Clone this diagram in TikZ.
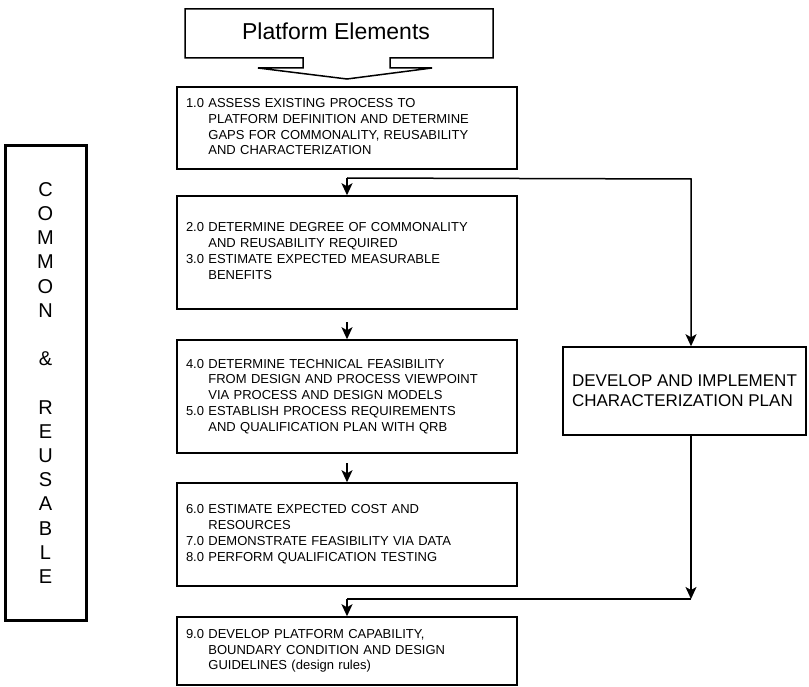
\documentclass[tikz,border=0pt]{standalone}
\usepackage{fontspec}
\setmainfont{Liberation Sans}
\usetikzlibrary{arrows.meta}

\begin{document}
\begin{tikzpicture}[x=1pt,y=-1pt,line width=1.5pt,
  stepbox/.style={draw,rectangle,inner xsep=9pt,text width=322pt,align=left,
    font=\fontsize{13}{15.8}\selectfont},
  sidebox/.style={draw,rectangle,line width=3pt,minimum width=81pt,minimum height=474pt,
    align=center,font=\fontsize{20}{24.2}\selectfont},
  planbox/.style={draw,rectangle,minimum width=243pt,minimum height=88pt,
    align=left,font=\fontsize{17}{20}\selectfont},
  arr/.style={-{Stealth[length=12pt,width=11pt,inset=3pt]},line width=1.5pt}]
  \useasboundingbox (0,0) rectangle (809,687);

  % platform elements banner with its arrow
  \draw (185,9) -- (493,9) -- (493,58) -- (390,58) -- (390,68) -- (432,68)
    -- (347,79) -- (258,68) -- (303,68) -- (303,58) -- (185,58) -- cycle;
  \node (pe) at (336,31) {\fontsize{23}{26}\selectfont Platform Elements};

  \node[stepbox,minimum height=82pt] (b1) at (347,128)
    {\begin{tabular}{@{}l@{ }l@{}}
      1.0 & ASSESS EXISTING PROCESS TO\\
          & PLATFORM DEFINITION AND DETERMINE\\
          & GAPS FOR COMMONALITY, REUSABILITY\\
          & AND CHARACTERIZATION
    \end{tabular}};
  \node[stepbox,minimum height=113pt] (b2) at (347,252.5)
    {\begin{tabular}{@{}l@{ }l@{}}
      2.0 & DETERMINE DEGREE OF COMMONALITY\\
          & AND REUSABILITY REQUIRED\\
      3.0 & ESTIMATE EXPECTED MEASURABLE\\
          & BENEFITS
    \end{tabular}};
  \node[stepbox,minimum height=113pt] (b3) at (347,396.5)
    {\begin{tabular}{@{}l@{ }l@{}}
      4.0 & DETERMINE TECHNICAL FEASIBILITY\\
          & FROM DESIGN AND PROCESS VIEWPOINT\\
          & VIA PROCESS AND DESIGN MODELS\\
      5.0 & ESTABLISH PROCESS REQUIREMENTS\\
          & AND QUALIFICATION PLAN WITH QRB
    \end{tabular}};
  \node[stepbox,minimum height=103pt] (b4) at (347,534.5)
    {\begin{tabular}{@{}l@{ }l@{}}
      6.0 & ESTIMATE EXPECTED COST AND\\
          & RESOURCES\\
      7.0 & DEMONSTRATE FEASIBILITY VIA DATA\\
      8.0 & PERFORM QUALIFICATION TESTING
    \end{tabular}};
  \node[stepbox,minimum height=68pt] (b5) at (347,651)
    {\begin{tabular}{@{}l@{ }l@{}}
      9.0 & DEVELOP PLATFORM CAPABILITY,\\
          & BOUNDARY CONDITION AND DESIGN\\
          & GUIDELINES (design rules)
    \end{tabular}};

  \node[planbox] (dev) at (684.5,391)
    {DEVELOP AND IMPLEMENT\\CHARACTERIZATION PLAN};

  \node[sidebox] (cr) at (45.5,383)
    {C\\O\\M\\M\\O\\N\\~\\\&\\~\\R\\E\\U\\S\\A\\B\\L\\E};

  % junctions
  \coordinate (j1) at (347,178);
  \coordinate (k1) at (691,179);
  \coordinate (a3) at (347,322);
  \coordinate (a4) at (347,463);
  \coordinate (k2) at (691,599);
  \coordinate (j2) at (347,599);

  \draw[arr] (j1) -- (b2.north);
  \draw[arr] (j1) -- (k1) -- (k1 |- dev.north);
  \draw[arr] (a3) -- (b3.north);
  \draw[arr] (a4) -- (b4.north);
  \draw[arr] (k1 |- dev.south) -- (k2);
  \draw (k2) -- (j2);
  \draw[arr] (j2) -- (b5.north);
\end{tikzpicture}
\end{document}
